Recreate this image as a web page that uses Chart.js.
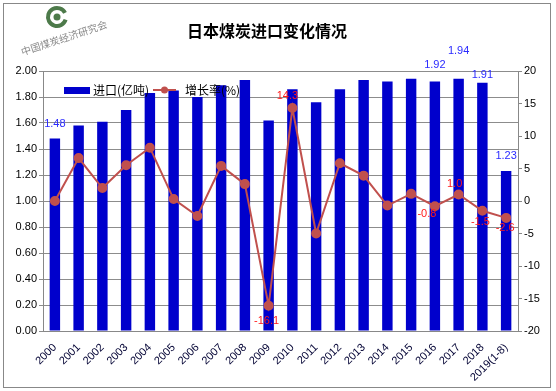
<!DOCTYPE html>
<html>
<head>
<meta charset="utf-8">
<script src="https://cdn.jsdelivr.net/npm/chart.js@4.4.1/dist/chart.umd.min.js"></script>
<style>
  html, body { margin: 0; padding: 0; background: #fff; }
  #wrap { width: 556px; height: 391px; position: relative; }
</style>
</head>
<body>
<div id="wrap"><canvas id="chart" width="556" height="391"></canvas></div>
<script>
const years = ['2000','2001','2002','2003','2004','2005','2006','2007','2008','2009',
  '2010','2011','2012','2013','2014','2015','2016','2017','2018','2019(1-8)']
const imports = [1.48,1.58,1.61,1.70,1.83,1.85,1.80,1.89,1.93,1.62,
  1.86,1.76,1.86,1.93,1.92,1.94,1.92,1.94,1.91,1.23]
const growth = [0.0,6.6,2.0,5.5,8.2,0.3,-2.3,5.4,2.6,-16.1,
  14.3,-5.0,5.8,3.9,-0.7,1.1,-0.8,1.0,-1.5,-2.6]
const leftTicks = [0,0.2,0.4,0.6,0.8,1.0,1.2,1.4,1.6,1.8,2.0]
const rightTicks = [-20,-15,-10,-5,0,5,10,15,20]

// which points get a value label, and where it sits relative to the mark
const barLabels = { 0: -15, 16: -16, 17: -28, 18: -8, 19: -15 }
const lineLabels = { 9: [-2, 15], 10: [-5, -12], 16: [-8, 8], 17: [-4, -11], 18: [-2, 11], 19: [-1, 10] }

const decor = {
  id: 'decor',
  beforeDraw(chart) {
    const ctx = chart.ctx
    ctx.save()
    ctx.fillStyle = '#fff'
    ctx.fillRect(0, 0, chart.width, chart.height)
    ctx.restore()
  },
  afterDraw(chart) {
    const ctx = chart.ctx
    ctx.save()
    // outer frame
    ctx.strokeStyle = '#888'
    ctx.lineWidth = 1
    ctx.strokeRect(3.5, 3.5, 547, 384)

    // title
    ctx.fillStyle = '#000'
    ctx.font = 'bold 16px "Noto Sans CJK SC"'
    ctx.textAlign = 'center'
    ctx.textBaseline = 'middle'
    ctx.fillText('日本煤炭进口变化情况', 267, 31)

    // logo
    ctx.strokeStyle = '#4d7a4a'
    ctx.lineWidth = 4
    ctx.beginPath()
    ctx.arc(57, 17, 9, 0.3, Math.PI * 1.85)
    ctx.stroke()
    ctx.fillStyle = '#4d7a4a'
    ctx.beginPath()
    ctx.arc(57, 17, 3.5, 0, Math.PI * 2)
    ctx.fill()
    ctx.restore()

    ctx.save()
    ctx.translate(64, 38)
    ctx.rotate(-0.32)
    ctx.fillStyle = '#8a8a8a'
    ctx.font = '10px "Noto Sans CJK SC"'
    ctx.textAlign = 'center'
    ctx.textBaseline = 'middle'
    ctx.fillText('中国煤炭经济研究会', 0, 0)
    ctx.restore()

    // legend
    ctx.save()
    ctx.fillStyle = '#0000CC'
    ctx.fillRect(64, 87, 26, 7)
    ctx.fillStyle = '#000'
    ctx.font = '12px "Noto Sans CJK SC"'
    ctx.textBaseline = 'middle'
    ctx.fillText('进口(亿吨)', 93, 90)
    ctx.strokeStyle = '#C0504D'
    ctx.lineWidth = 2
    ctx.beginPath()
    ctx.moveTo(153, 90)
    ctx.lineTo(176, 90)
    ctx.stroke()
    ctx.fillStyle = '#C0504D'
    ctx.beginPath()
    ctx.arc(164.5, 90, 3.5, 0, Math.PI * 2)
    ctx.fill()
    ctx.fillStyle = '#000'
    ctx.fillText('增长率(%)', 185, 90)
    ctx.restore()
  },
  afterDatasetsDraw(chart) {
    const ctx = chart.ctx
    ctx.save()
    ctx.font = '11px "Liberation Sans"'
    ctx.textAlign = 'center'
    ctx.textBaseline = 'middle'
    const bars = chart.getDatasetMeta(1).data
    ctx.fillStyle = '#2b2bff'
    Object.keys(barLabels).forEach(i => {
      const el = bars[i]
      ctx.fillText(imports[i].toFixed(2), el.x, el.y + barLabels[i])
    })
    const pts = chart.getDatasetMeta(0).data
    ctx.fillStyle = '#ff1a1a'
    Object.keys(lineLabels).forEach(i => {
      const el = pts[i]
      const off = lineLabels[i]
      ctx.fillText(growth[i].toFixed(1), el.x + off[0], el.y + off[1])
    })
    ctx.restore()
  }
}

const data = {
  labels: years,
  datasets: [
    {
      type: 'line',
      label: '增长率(%)',
      data: growth,
      yAxisID: 'y1',
      borderColor: '#C0504D',
      backgroundColor: '#C0504D',
      borderWidth: 2,
      pointRadius: 4,
      pointHoverRadius: 4,
      tension: 0,
      order: 0
    },
    {
      type: 'bar',
      label: '进口(亿吨)',
      data: imports,
      yAxisID: 'y',
      backgroundColor: '#0000CC',
      barPercentage: 0.44,
      categoryPercentage: 1,
      order: 1
    }
  ]
}

const chart_config = {
  data: data,
  options: {
    responsive: false,
    animation: false,
    layout: { padding: { top: 71, left: 0, right: 0, bottom: 0 } },
    plugins: {
      legend: { display: false },
      title: { display: false },
      tooltip: { enabled: false }
    },
    scales: {
      x: {
        grid: { display: false, drawTicks: false },
        border: { color: '#888' },
        ticks: {
          color: '#000033',
          font: { family: 'Liberation Sans', size: 11 },
          maxRotation: 45,
          minRotation: 45,
          autoSkip: false,
          padding: 10
        },
        afterFit(scale) { scale.height = 60 }
      },
      y: {
        position: 'left',
        min: 0,
        max: 2,
        afterBuildTicks(scale) { scale.ticks = leftTicks.map(v => ({ value: v })) },
        grid: { color: '#8c8c8c', tickLength: 4 },
        border: { color: '#888' },
        ticks: {
          color: '#000',
          font: { family: 'Liberation Sans', size: 11 },
          padding: 2,
          callback: v => Number(v).toFixed(2)
        },
        afterFit(scale) { scale.width = 43 }
      },
      y1: {
        position: 'right',
        min: -20,
        max: 20,
        afterBuildTicks(scale) { scale.ticks = rightTicks.map(v => ({ value: v })) },
        grid: { drawOnChartArea: false, color: '#888', tickLength: 4 },
        border: { color: '#888' },
        ticks: {
          color: '#000',
          font: { family: 'Liberation Sans', size: 11 },
          padding: 2
        },
        afterFit(scale) { scale.width = 38 }
      }
    }
  },
  plugins: [decor]
}

const table = new Chart(document.getElementById('chart'), chart_config)
</script>
</body>
</html>
